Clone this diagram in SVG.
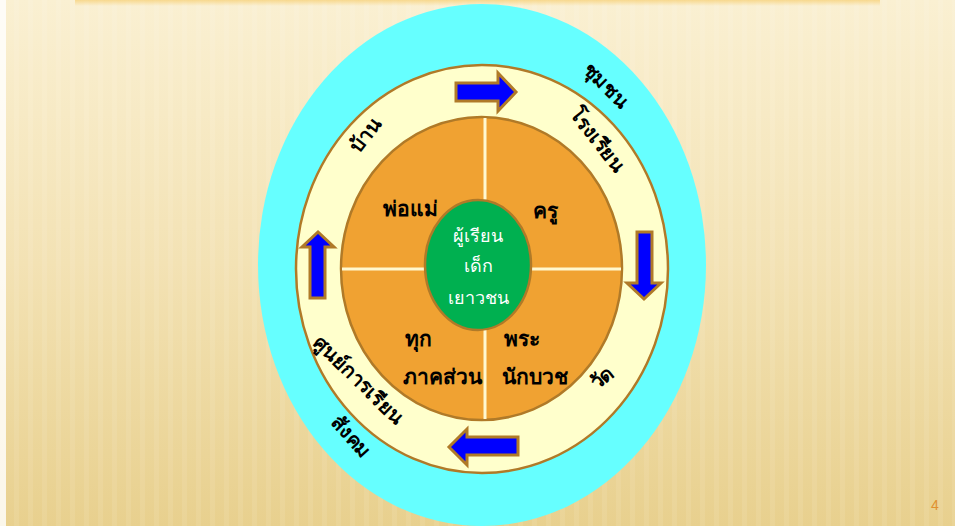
<svg xmlns="http://www.w3.org/2000/svg" width="955" height="526" viewBox="0 0 955 526">
<defs>
<linearGradient id="bg" x1="0" y1="0" x2="0" y2="1">
<stop offset="0" stop-color="#faf0d2"/>
<stop offset="0.5" stop-color="#f3e2b4"/>
<stop offset="1" stop-color="#e8d08e"/>
</linearGradient>
<linearGradient id="glow" x1="0" y1="0" x2="0" y2="1">
<stop offset="0" stop-color="#f5c860" stop-opacity="0.6"/>
<stop offset="1" stop-color="#f5c860" stop-opacity="0"/>
</linearGradient>
<pattern id="stripes" width="14" height="526" patternUnits="userSpaceOnUse">
<rect x="0" y="0" width="5" height="526" fill="#ffffff" opacity="0.08"/>
</pattern>
</defs>
<style>
.ring{stroke:#b07a28;stroke-width:2.5}
.arrow{fill:#0000ff;stroke:#b07a28;stroke-width:3;stroke-linejoin:miter}
.q{font-family:"DejaVu Sans","Noto Sans",sans-serif;font-weight:bold;font-size:21px;fill:#000;text-anchor:middle}
.c{font-family:"DejaVu Sans","Noto Sans",sans-serif;font-size:18px;fill:#fff;text-anchor:middle}
.r{font-family:"DejaVu Sans","Noto Sans",sans-serif;font-weight:bold;font-size:20px;fill:#000;text-anchor:middle}
.div{stroke:#fff8d0;stroke-width:3}
</style>
<rect width="955" height="526" fill="url(#bg)"/>
<rect width="955" height="526" fill="url(#stripes)"/>
<rect x="0" y="0" width="6" height="526" fill="#ffffff" opacity="0.8"/>
<rect x="75" y="0" width="805" height="6" fill="url(#glow)"/>

<g id="society">
<ellipse cx="482" cy="265" rx="224" ry="261" fill="#66ffff"/>
<text class="r" transform="translate(346,441) rotate(48)">สังคม</text>
</g>
<g id="community-ring">
<ellipse class="ring" cx="482" cy="269" rx="186" ry="204" fill="#ffffcc"/>
<text class="r" transform="translate(371,139) rotate(-52)">บ้าน</text>
<text class="r" transform="translate(601,90) rotate(45)">ชุมชน</text>
<text class="r" transform="translate(592,144) rotate(52)">โรงเรียน</text>
<text class="r" transform="translate(606,383) rotate(-38)">วัด</text>
<text class="r" transform="translate(354,385) rotate(44)">ศูนย์การเรียน</text>
</g>
<g id="stakeholders">
<ellipse class="ring" cx="481.5" cy="268.5" rx="140.5" ry="151.5" fill="#f0a232"/>
<line class="div" x1="485" y1="118" x2="485" y2="419"/>
<line class="div" x1="342" y1="269" x2="621" y2="269"/>
</g>
<g id="parents"><text class="q" x="410" y="216">พ่อแม่</text></g>
<g id="teacher"><text class="q" x="545" y="218">ครู</text></g>
<g id="all-sectors"><text class="q" x="418" y="346">ทุก</text><text class="q" x="442" y="384">ภาคส่วน</text></g>
<g id="clergy"><text class="q" x="522" y="346">พระ</text><text class="q" x="535" y="384">นักบวช</text></g>
<g id="learner">
<ellipse class="ring" cx="478" cy="265" rx="53" ry="65" fill="#00b050"/>
<text class="c" x="478" y="242">ผู้เรียน</text>
<text class="c" x="478" y="272">เด็ก</text>
<text class="c" x="478" y="304">เยาวชน</text>
</g>
<g id="connectors">
<polygon class="arrow" points="456,83 498,83 498,73 516,92 498,111 498,101 456,101"/>
<polygon class="arrow" points="637,232 652,232 652,283 661,283 644,299 627,283 637,283"/>
<polygon class="arrow" points="518,437 518,455 467,455 467,465 449,447 467,429 467,437"/>
<polygon class="arrow" points="310,298 325,298 325,247 334,247 318,232 302,247 310,247"/>
</g>
<text x="935" y="510" font-family="Liberation Sans, sans-serif" font-size="14" fill="#e09030" text-anchor="middle">4</text>
</svg>
